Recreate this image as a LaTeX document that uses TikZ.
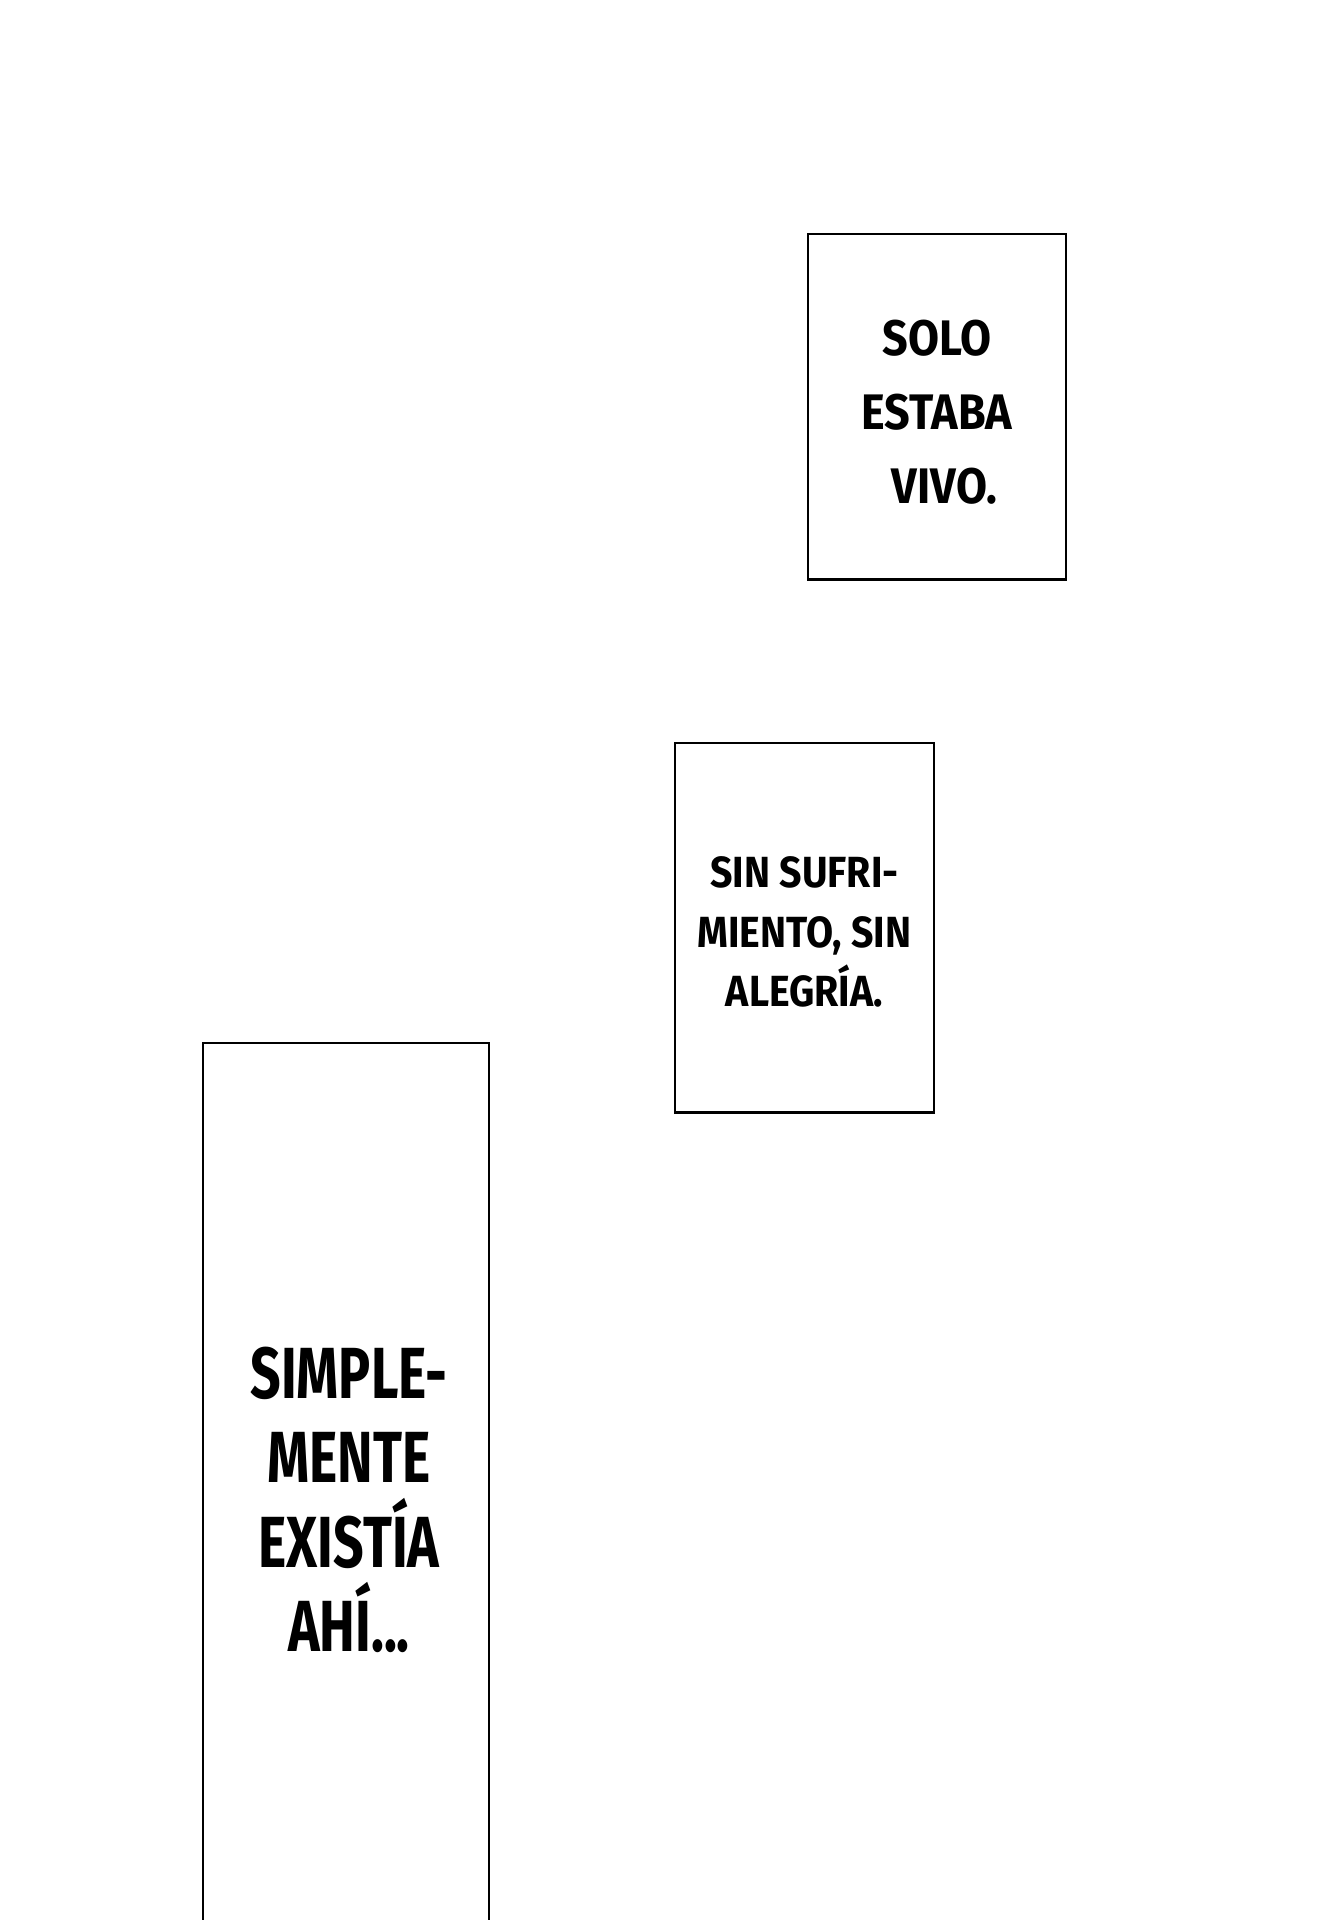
\documentclass[tikz,border=0pt]{standalone}
\usepackage{fontspec}
\newfontfamily\comicfont{Fira Sans}[FakeStretch=0.9]
\newfontfamily\comicnarrow{Fira Sans}[FakeStretch=0.74]
\tikzset{
	panel/.style={draw,line width=0.8pt,inner sep=0pt,align=center},
	smalltext/.style={font=\comicfont\bfseries\fontsize{12.4}{17}\selectfont},
	midtext/.style={font=\comicfont\bfseries\fontsize{14.2}{21}\selectfont},
	bigtext/.style={font=\comicnarrow\bfseries\fontsize{20.6}{24}\selectfont}
}
\begin{document}
\begin{tikzpicture}[x=0.01cm,y=-0.01cm]
		\fill[white] (0,0) rectangle (1337,1920);
		\useasboundingbox (0,0) rectangle (1337,1920);
		\node[panel,midtext,minimum width=2.58cm,minimum height=3.45cm] (solo) at (937,406.5) {};
		\node[midtext,align=center] (solotext) at (937,412) {SOLO\\ESTABA\\\hspace{0.3em}VIVO.};
		\node[panel,smalltext,minimum width=2.59cm,minimum height=3.69cm] (sin) at (804.5,927.5) {};
		\node[smalltext,align=center] (sintext) at (804.5,932) {SIN SUFRI-\\MIENTO, SIN\\ALEGRÍA.};
		\draw[line width=0.8pt] (203,1920) -- (203,1043) -- (489,1043) -- (489,1920);
		\node[bigtext,align=center] (ahi) at (349,1500) {SIMPLE-\\MENTE\\EXISTÍA\\AHÍ...};
	\end{tikzpicture}
\end{document}
